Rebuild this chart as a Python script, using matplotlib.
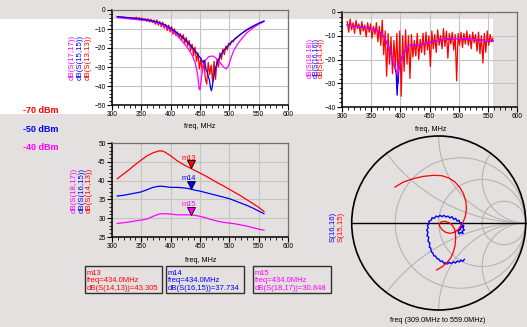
import numpy as np
import matplotlib
matplotlib.use('Agg')
import matplotlib.pyplot as plt
from matplotlib.patches import Rectangle, Circle
from matplotlib.ticker import MultipleLocator

plt.rcParams['font.family'] = ['Liberation Sans', 'DejaVu Sans']

# ---------------- data ----------------
# top-left plot
f1_s1717 = [309, 320, 340, 360, 380, 390, 400, 410, 420, 430, 437, 442, 446, 448.5, 450, 452, 455, 459, 465, 472,
            478, 484, 490, 495, 499, 503, 508, 514, 520, 530, 540, 550, 559]
s1717 = [-4.0, -4.4, -5.0, -5.6, -7.0, -8.5, -10.5, -13.0, -16.5, -20.5, -24.0, -28.0, -34.0, -41.5, -42.0, -37.0,
         -30.0, -26.5, -24.5, -24.2, -25.5, -27.5, -30.0, -31.0, -29.0, -25.0, -21.0, -18.0, -15.5, -12.0, -9.5, -7.5, -6.0]
f1_s1515 = [309, 320, 330, 340, 350, 360, 370, 380, 390, 400, 410, 420, 430, 440, 450, 455, 458, 460, 463, 466,
            468, 469.5, 471, 473, 476, 480, 485, 490, 500, 510, 520, 530, 540, 550, 559]
s1515 = [-3.5, -3.8, -4.1, -4.4, -4.8, -5.2, -5.8, -6.6, -7.8, -9.6, -11.8, -14.2, -17.2, -20.8, -25.0, -27.5, -26.5,
         -31.0, -33.5, -37.0, -41.0, -42.5, -40.0, -36.0, -31.0, -27.0, -24.0, -21.5, -18.0, -15.0, -12.5, -10.3, -8.5,
         -7.0, -5.8]
f1_s1313 = np.linspace(309, 559, 101)
s1313 = [-3.6, -3.7, -3.6, -3.8, -3.8, -3.9, -4.0, -4.0, -4.1, -4.1, -4.3, -4.2, -4.5, -3.8, -4.9, -4.0, -5.3, -4.2,
         -5.6, -4.5, -5.9, -4.6, -6.3, -4.9, -6.6, -5.3, -7.5, -5.2, -8.0, -6.0, -8.8, -6.4, -9.5, -7.5, -10.8, -8.0,
         -11.5, -8.8, -12.8, -10.0, -13.5, -11.5, -14.6, -12.5, -15.8, -13.0, -17.5, -14.5, -19.0, -16.0, -21.5, -18.0,
         -24.0, -19.5, -27.0, -22.5, -31.0, -25.0, -33.0, -26.5, -36.0, -39.0, -27.5, -34.0, -29.0, -38.0, -27.0, -36.5,
         -26.0, -30.0, -22.5, -26.0, -20.5, -23.5, -19.0, -21.0, -17.5, -18.5, -16.3, -16.8, -15.3, -15.0, -14.2, -13.6,
         -12.9, -12.4, -11.8, -11.3, -10.8, -10.3, -9.8, -9.4, -9.0, -8.6, -8.2, -7.8, -7.4, -7.0, -6.7, -6.3, -6.0]

# top-right plot
f2_s1616 = [309, 320, 330, 340, 350, 360, 367, 372, 377, 382, 386, 389, 391, 393, 394.5, 396, 398, 400, 403, 406,
            410, 415, 420, 430, 440, 450, 460, 470, 480, 490, 500, 510, 520, 530, 540, 550, 559]
s1616 = [-5.5, -5.8, -6.2, -6.5, -7.0, -7.8, -9.0, -10.5, -13.0, -16.0, -19.5, -22.0, -23.5, -26.0, -35.0, -27.0,
         -23.0, -21.0, -19.0, -17.5, -15.5, -14.2, -13.8, -13.8, -13.5, -12.8, -12.2, -11.8, -11.4, -11.2, -11.2, -11.3,
         -11.5, -11.7, -11.9, -12.1, -12.2]
f2_s1818 = [309, 320, 330, 340, 350, 360, 367, 372, 377, 382, 386, 389, 391, 393, 395, 397, 400, 403, 406,
            410, 415, 420, 430, 440, 450, 460, 470, 480, 490, 500, 510, 520, 530, 540, 550, 559]
s1818 = [-5.5, -5.8, -6.2, -6.5, -7.0, -7.8, -9.0, -10.5, -13.0, -16.0, -19.5, -22.0, -23.0, -24.5, -26.5, -24.0,
         -21.0, -19.0, -17.5, -15.5, -14.2, -13.8, -13.8, -13.5, -12.8, -12.2, -11.8, -11.4, -11.2, -11.2, -11.3,
         -11.5, -11.7, -11.9, -12.1, -12.2]
f2_s1414 = np.linspace(309, 559, 101)
s1414 = [-4.0, -8.5, -3.0, -7.5, -4.5, -9.0, -3.5, -7.0, -5.0, -9.5, -4.0, -8.0, -5.5, -10.5, -4.5, -8.5, -5.0, -11.0,
         -6.0, -9.5, -4.5, -12.5, -6.0, -14.0, -3.5, -18.0, -8.0, -27.0, -9.0, -22.0, -10.5, -26.0, -12.0, -24.0, -9.0,
         -30.0, -8.0, -35.5, -10.0, -25.0, -7.5, -22.0, -10.0, -28.0, -9.5, -19.0, -12.0, -18.5, -9.0, -20.0, -11.5,
         -17.0, -9.0, -18.0, -8.5, -16.0, -10.0, -23.0, -8.0, -15.5, -9.5, -17.0, -7.5, -14.0, -10.0, -15.5, -7.0, -14.5,
         -8.0, -19.5, -9.0, -13.5, -8.5, -16.0, -9.5, -29.0, -9.0, -14.0, -8.5, -15.0, -9.0, -13.5, -8.0, -14.0, -9.5,
         -15.5, -8.5, -13.0, -9.5, -16.5, -8.5, -17.5, -10.0, -21.5, -9.0, -17.0, -8.0, -14.0, -9.5, -12.5, -11.0]

# gain plot
f3 = [309, 320, 330, 340, 350, 360, 370, 380, 385, 390, 400, 410, 420, 430, 440, 450, 460, 470, 480, 490, 500, 510,
      520, 530, 540, 550, 559]
s1413 = [40.5, 41.8, 43.0, 44.3, 45.5, 46.6, 47.4, 47.9, 47.9, 47.6, 46.6, 45.4, 44.4, 43.6, 42.8, 42.0, 41.2, 40.3,
         39.4, 38.6, 37.7, 36.8, 35.9, 34.9, 33.9, 32.9, 31.8]
s1615 = [35.9, 36.1, 36.4, 36.7, 37.0, 37.6, 38.2, 38.5, 38.5, 38.4, 38.2, 38.2, 38.1, 37.9, 37.5, 37.2, 36.8, 36.4,
         36.0, 35.6, 35.2, 34.6, 34.0, 33.4, 32.7, 31.9, 31.2]
s1817 = [28.6, 28.8, 29.0, 29.3, 29.5, 29.8, 30.5, 31.1, 31.2, 31.2, 31.1, 30.9, 30.9, 30.9, 30.8, 30.5, 30.1, 29.6,
         29.2, 28.9, 28.7, 28.5, 28.2, 27.9, 27.5, 27.1, 26.8]
marker_names = ['m13', 'm14', 'm15']
marker_freq = 434.0
marker_vals = [43.305, 37.734, 30.848]
marker_exprs = ['dB(S(14,13))', 'dB(S(16,15))', 'dB(S(18,17))']

# Smith chart (reflection coefficient, real / imag)
s1515_re = [-0.502, -0.406, -0.291, -0.176, -0.061, 0.034, 0.119, 0.188, 0.245, 0.287, 0.314, 0.318, 0.307, 0.284,
            0.257, 0.226, 0.180, 0.130, 0.080, 0.038, 0.011, 0.008, 0.031, 0.073, 0.119, 0.157, 0.180, 0.192, 0.195,
            0.188, 0.169, 0.138, 0.092, 0.034, -0.023]
s1515_im = [0.414, 0.471, 0.510, 0.536, 0.548, 0.544, 0.517, 0.471, 0.406, 0.330, 0.241, 0.157, 0.080, 0.019,
            -0.034, -0.073, -0.107, -0.119, -0.107, -0.077, -0.038, -0.008, 0.015, 0.019, 0.004, -0.027, -0.065,
            -0.111, -0.180, -0.257, -0.333, -0.402, -0.460, -0.506, -0.540]
s1616_re = [0.295, 0.276, 0.257, 0.238, 0.215, 0.192, 0.169, 0.146, 0.123, 0.100, 0.080, 0.061, 0.042, 0.019, 0.000,
            -0.019, -0.038, -0.054, -0.069, -0.084, -0.092, -0.107, -0.103, -0.123, -0.115, -0.134, -0.123, -0.138,
            -0.119, -0.130, -0.107, -0.115, -0.084, -0.077, -0.050, -0.031, -0.008, 0.015, 0.038, 0.061, 0.084, 0.107,
            0.130, 0.153, 0.172, 0.195, 0.211, 0.234, 0.245, 0.264, 0.268, 0.287, 0.280, 0.295, 0.268, 0.280, 0.249,
            0.234, 0.222, 0.253, 0.238, 0.272, 0.257, 0.284]
s1616_im = [-0.418, -0.441, -0.425, -0.448, -0.437, -0.460, -0.444, -0.467, -0.452, -0.471, -0.456, -0.464, -0.437,
            -0.441, -0.414, -0.410, -0.379, -0.379, -0.341, -0.333, -0.287, -0.280, -0.226, -0.211, -0.161, -0.146,
            -0.103, -0.084, -0.054, -0.027, -0.004, 0.019, 0.034, 0.061, 0.054, 0.080, 0.069, 0.088, 0.073, 0.088,
            0.069, 0.080, 0.057, 0.073, 0.042, 0.054, 0.023, 0.031, -0.004, 0.004, -0.034, -0.027, -0.065, -0.080,
            -0.096, -0.119, -0.111, -0.126, -0.092, -0.073, -0.050, -0.050, -0.019, -0.042]
smith_r = [1/3, 1.0, 3.0]
smith_x = [0.5, 1.0, 2.0]

power_labels = ['-70 dBm', '-50 dBm', '-40 dBm']

RED, BLUE, MAG = '#ff0000', '#0000ff', '#ff00ff'
BG = '#e5e0e0'

# ---------------- figure ----------------
W, H = 527, 327
fig = plt.figure(figsize=(W / 100, H / 100), dpi=100, facecolor=BG)


def fx(x):
    return x / W


def fy(y):
    return 1 - y / H


def rect(x0, y0, x1, y1):
    return [fx(x0), fy(y1), (x1 - x0) / W, (y1 - y0) / H]


fig.add_artist(Rectangle((0, fy(114)), fx(493), 95 / H, transform=fig.transFigure,
                         facecolor='white', edgecolor='none', zorder=-10))

TICK_FS = 4.8


def style_ax(ax, ylim, ymaj, ymin):
    ax.set_facecolor('none')
    ax.set_xlim(300, 600)
    ax.set_ylim(*ylim)
    ax.xaxis.set_major_locator(MultipleLocator(50))
    ax.xaxis.set_minor_locator(MultipleLocator(10))
    ax.yaxis.set_major_locator(MultipleLocator(ymaj))
    ax.yaxis.set_minor_locator(MultipleLocator(ymin))
    ax.grid(True, which='major', color='#c4c4c4', lw=0.8)
    ax.set_axisbelow(True)
    for s in ['left', 'bottom']:
        ax.spines[s].set_color('black')
        ax.spines[s].set_linewidth(1.1)
    for s in ['top', 'right']:
        ax.spines[s].set_color('#707070')
        ax.spines[s].set_linewidth(0.9)
    ax.tick_params(which='both', direction='out', labelsize=TICK_FS, pad=1, top=False, right=False)
    ax.tick_params(which='major', length=3.5, width=0.8)
    ax.tick_params(which='minor', length=2.2, width=0.6)


# top-left
ax1 = fig.add_axes(rect(112, 10, 288, 105))
style_ax(ax1, (-50, 0), 10, 2)
ax1.plot(f1_s1313, s1313, color=RED, lw=0.9)
ax1.plot(f1_s1717, s1717, color=MAG, lw=0.9)
ax1.plot(f1_s1515, s1515, color=BLUE, lw=0.9)

# top-right
ax2 = fig.add_axes(rect(342, 12, 517, 107))
style_ax(ax2, (-40, 0), 10, 2)
ax2.plot(f2_s1414, s1414, color=RED, lw=0.9)
ax2.plot(f2_s1616, s1616, color=BLUE, lw=1.0)
ax2.plot(f2_s1818, s1818, color=MAG, lw=0.9)

# gain plot
ax3 = fig.add_axes(rect(112, 143, 288, 237))
style_ax(ax3, (25, 50), 5, 1)
cols3 = [RED, BLUE, MAG]
for vals, c in zip([s1413, s1615, s1817], cols3):
    ax3.plot(f3, vals, color=c, lw=0.9)
for name, v, c in zip(marker_names, marker_vals, cols3):
    ax3.plot(marker_freq, v + 1.1, marker='v', ms=5.5, mfc=c, mec='black', mew=0.6)
    ax3.text(marker_freq - 4, v + 2.7, name, color=c, fontsize=5.3, ha='center', va='center')

# y labels (rotated, stacked)
def ylabels(xs, yc, texts, cols, fs=5.7):
    for x, t, c in zip(xs, texts, cols):
        fig.text(fx(x), fy(yc), t, rotation=90, color=c, fontsize=fs, ha='center', va='center')


ylabels([72, 80, 88], 57, ['dB(S(17,17))', 'dB(S(15,15))', 'dB(S(13,13))'], [MAG, BLUE, RED])
ylabels([310.5, 316, 321.5], 58, ['dB(S(18,18))', 'dB(S(16,16))', 'dB(S(14,14))'], [MAG, BLUE, RED], fs=5.0)
ylabels([74, 82, 89.5], 190, ['dB(S(18,17))', 'dB(S(16,15))', 'dB(S(14,13))'], [MAG, BLUE, RED])
ylabels([333, 341], 227, ['S(16,16)', 'S(15,15)'], [BLUE, RED])

# x labels
XL_FS = 5.2
fig.text(fx(200), fy(126), 'freq, MHz', fontsize=XL_FS, ha='center', va='center')
fig.text(fx(431), fy(129), 'freq, MHz', fontsize=XL_FS, ha='center', va='center')
fig.text(fx(201), fy(261), 'freq, MHz', fontsize=XL_FS, ha='center', va='center')
fig.text(fx(438), fy(320.5), 'freq (309.0MHz to 559.0MHz)', fontsize=XL_FS, ha='center', va='center')

# power labels
for lab, c, y in zip(power_labels, [RED, BLUE, MAG], [110, 130, 148]):
    fig.text(fx(23), fy(y), lab, color=c, fontsize=6.5, fontweight='bold', ha='left', va='center')

# marker readout boxes
box_x = [(85, 162), (165.5, 243.5), (253, 331)]
for (x0, x1), name, expr, v, c in zip(box_x, marker_names, marker_exprs, marker_vals, cols3):
    fig.add_artist(Rectangle((fx(x0), fy(293)), (x1 - x0) / W, 27 / H, transform=fig.transFigure,
                             facecolor=BG, edgecolor='#303030', lw=1.0))
    lines = [name, 'freq=%.1fMHz' % marker_freq, '%s=%.3f' % (expr, v)]
    for i, t in enumerate(lines):
        fig.text(fx(x0 + 2), fy(273.5 + 7.3 * i), t, color=c, fontsize=5.5, ha='left', va='center')

# Smith chart
ax4 = fig.add_axes(rect(351.7, 136, 525.7, 310))
ax4.set_xlim(-1, 1)
ax4.set_ylim(-1, 1)
ax4.axis('off')
unit = Circle((0, 0), 1, transform=ax4.transData, facecolor='none', edgecolor='none')
ax4.add_patch(unit)
GRID = '#b4b4b4'
for r in smith_r:
    c = Circle((r / (1 + r), 0), 1 / (1 + r), fill=False, edgecolor=GRID, lw=0.8)
    ax4.add_patch(c)
    c.set_clip_path(unit)
for xv in smith_x:
    for sgn in (1, -1):
        c = Circle((1, sgn / xv), 1 / xv, fill=False, edgecolor=GRID, lw=0.8)
        ax4.add_patch(c)
        c.set_clip_path(unit)
ax4.add_patch(Circle((0, 0), 1, fill=False, edgecolor='black', lw=1.2, clip_on=False))
ax4.plot([-1, 1], [0, 0], color='black', lw=1.0, clip_on=False)
ax4.plot(s1616_re, s1616_im, color=BLUE, lw=1.0, clip_on=False)
ax4.plot(s1515_re, s1515_im, color=RED, lw=0.9, clip_on=False)

fig.savefig('out.png', dpi=100, facecolor=BG)
